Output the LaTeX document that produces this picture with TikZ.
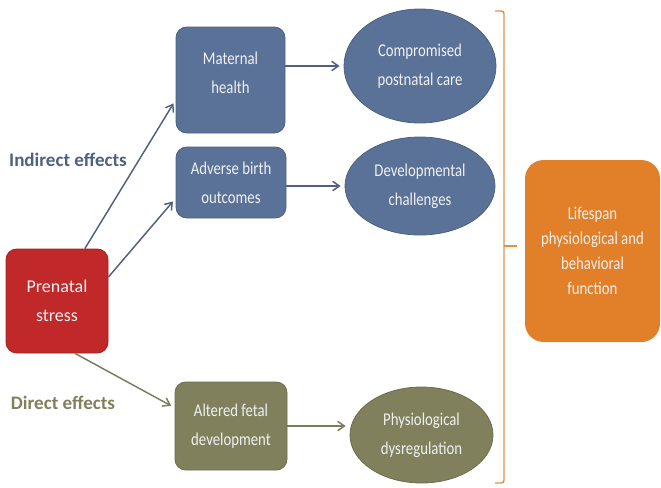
\documentclass[tikz,border=0pt]{standalone}
\usepackage{fontspec}
\setmainfont{Carlito}[FakeStretch=0.82]
\newfontfamily\labelfont{Carlito}
\usepackage{tikz}
\usetikzlibrary{shapes.geometric,arrows.meta}

\definecolor{slateblue}{RGB}{90,114,152}
\definecolor{slateline}{RGB}{80,96,128}
\definecolor{stressred}{RGB}{192,40,42}
\definecolor{olive}{RGB}{128,128,92}
\definecolor{oliveline}{RGB}{122,124,90}
\definecolor{lifeorange}{RGB}{226,128,42}
\definecolor{braceorange}{RGB}{226,146,70}
\definecolor{boxtext}{RGB}{240,240,242}

\tikzset{
  box/.style={rounded corners=8pt,text=boxtext,align=center,inner sep=2pt,
    font=\fontsize{13.5}{21.5}\selectfont},
  bluebox/.style={box,fill=slateblue,draw=slateblue!85!black,line width=0.6pt},
  olivebox/.style={box,fill=olive,draw=olive!85!black,line width=0.6pt},
  oval/.style={ellipse,text=boxtext,align=center,inner sep=0pt,
    font=\fontsize{13.5}{21.5}\selectfont,line width=0.6pt},
  effect/.style={font=\labelfont\fontsize{14.3}{17}\selectfont\bfseries},
  link/.style={line width=1.1pt,-{Straight Barb[length=5pt,width=7pt]},shorten >=3pt}
}

\begin{document}
\begin{tikzpicture}[x=0.75pt,y=-0.75pt]
\useasboundingbox (0,0) rectangle (661,487);

\node (stress) at (57,301) [box,fill=stressred,draw=stressred!85!black,line width=0.6pt,
  font=\labelfont\fontsize{13.5}{22}\selectfont,
  minimum width=102*0.75pt,minimum height=104*0.75pt]{Prenatal\\stress};
\node (mat) at (230.5,80) [bluebox,minimum width=109*0.75pt,minimum height=106*0.75pt]{};
\node (mattext) at (230.5,73) [box]{Maternal\\health};
\node (adv) at (231,182.5) [bluebox,minimum width=110*0.75pt,minimum height=71*0.75pt]{Adverse birth\\outcomes};
\node (alt) at (231,426) [olivebox,minimum width=112*0.75pt,minimum height=88*0.75pt]{Altered fetal\\development};

\node (comp) at (420,66) [oval,fill=slateblue,draw=slateblue!85!black,
  minimum width=152*0.75pt,minimum height=114*0.75pt]{Compromised\\postnatal care};
\node (dev) at (420,186) [oval,fill=slateblue,draw=slateblue!85!black,
  minimum width=150*0.75pt,minimum height=98*0.75pt]{Developmental\\challenges};
\node (phys) at (421.5,435) [oval,fill=olive,draw=olive!85!black,
  minimum width=143*0.75pt,minimum height=96*0.75pt]{Physiological\\dysregulation};

\node (life) at (592.5,251) [box,rounded corners=14pt,fill=lifeorange,font=\fontsize{13.5}{18.75}\selectfont,
  minimum width=135*0.75pt,minimum height=182*0.75pt]{Lifespan\\physiological and\\behavioral\\function};

\node (indirect) at (68,160) [effect,text=slateline]{Indirect effects};
\node (direct) at (63,403) [effect,text=olive]{Direct effects};

\draw [link,slateline] (stress.62) -- (mat.200);
\draw [link,slateline] (stress.25) -- (adv.196);
\draw [link,oliveline] (stress.-71) -- (alt.162);
\draw [link,slateline] (mat.east |- comp.west) -- (comp.west);
\draw [link,slateline] (adv.east |- dev.west) -- (dev.west);
\draw [link,oliveline] (alt.east) -- (alt.east -| phys.west);

\draw [braceorange,line width=1.1pt,rounded corners=2pt] (495,11) -- (504,11) -- (504,483) -- (495,483);
\draw [braceorange,line width=1.1pt] (504,246) -- (517,246);
\end{tikzpicture}
\end{document}
